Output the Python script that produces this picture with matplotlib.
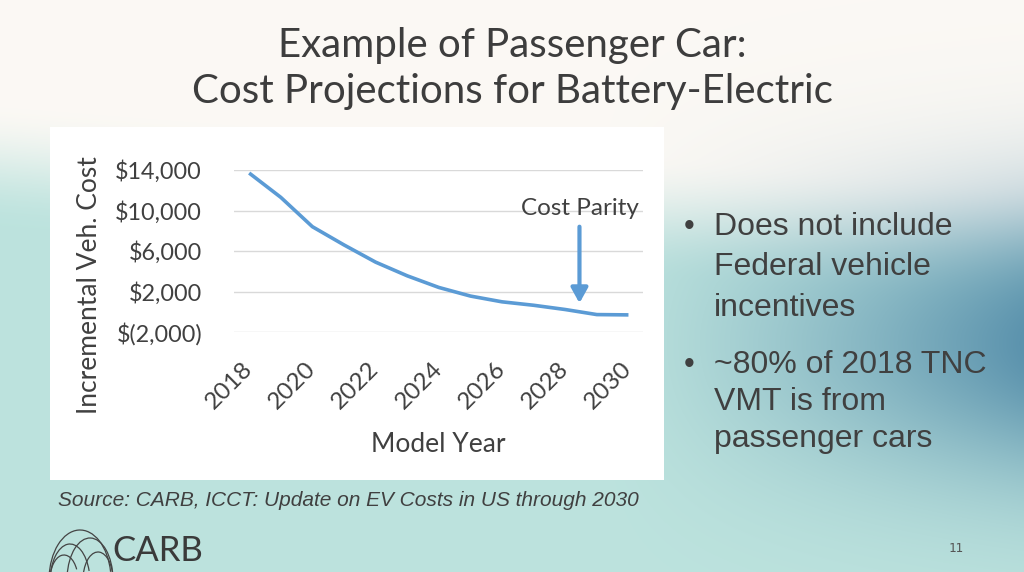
import numpy as np
import matplotlib
matplotlib.use("Agg")
import matplotlib.pyplot as plt
from matplotlib.patches import Rectangle, Arc
from matplotlib.ticker import FuncFormatter

# ============================
# Datos
# ============================
years = [2018, 2019, 2020, 2021, 2022, 2023, 2024, 2025, 2026, 2027, 2028, 2029, 2030]
cost = [13700, 11300, 8400, 6600, 4900, 3550, 2400, 1550, 980, 640, 220, -280, -310]

y_ticks = [-2000, 2000, 6000, 10000, 14000]
x_ticks = [2018, 2020, 2022, 2024, 2026, 2028, 2030]

parity_year = 2028.45
arrow_top = 8400
arrow_tip = 850
parity_label_y = 10200

title_lines = ["Example of Passenger Car:", "Cost Projections for Battery-Electric"]
bullets = [["Does not include", "Federal vehicle", "incentives"],
           ["~80% of 2018 TNC", "VMT is from", "passenger cars"]]
source_text = "Source: CARB, ICCT: Update on EV Costs in US through 2030"

W, H = 1024, 572
fig = plt.figure(figsize=(W / 100, H / 100), dpi=100)

# ============================
# Fondo degradado de la diapositiva
# ============================
bg = fig.add_axes([0, 0, 1, 1])
bg.set_xlim(0, W)
bg.set_ylim(H, 0)
bg.axis("off")

xx, yy = np.meshgrid(np.linspace(0, 1, W), np.linspace(0, 1, H))
cream = np.array([0.985, 0.975, 0.958])
teal = np.array([0.74, 0.89, 0.87])
blue = np.array([0.34, 0.56, 0.67])
y0 = 0.18 + 0.14 * xx
t = np.clip((yy - y0) / 0.22, 0, 1)
t = t * t * (3 - 2 * t)
img = cream * (1 - t[..., None]) + teal * t[..., None]
d = 0.95 * np.clip((xx - 0.58) / 0.42, 0, 1) ** 1.3 * np.exp(-((yy - 0.6) / 0.24) ** 2)
img = img * (1 - d[..., None]) + blue * d[..., None]
bg.imshow(img, extent=[0, W, H, 0], aspect="auto", zorder=0)

# caja blanca del gráfico
bg.add_patch(Rectangle((50, 127), 614, 353, facecolor="white", edgecolor="none", zorder=1))

# título
for line, yb in zip(title_lines, [57, 103]):
    bg.text(512, yb, line, ha="center", va="baseline", fontsize=29,
            color="#3d3d3d", family=["Lato", "DejaVu Sans"], zorder=2)

# viñetas
baselines = [[235, 275, 316], [373, 410, 447]]
for block, ys in zip(bullets, baselines):
    bg.text(684, ys[0], "•", ha="left", va="baseline", fontsize=22, color="#404040",
            family=["Liberation Sans", "DejaVu Sans"], zorder=2)
    for line, yb in zip(block, ys):
        bg.text(714, yb, line, ha="left", va="baseline", fontsize=23, color="#404040",
                family=["Liberation Sans", "DejaVu Sans"], zorder=2)

# fuente
bg.text(58, 500, source_text, ha="left", va="center", fontsize=15, style="italic",
        color="#404040", family=["Liberation Sans", "DejaVu Sans"], zorder=2)

# logo CARB (arcos)
for cx, cy, w, h, a1, a2 in [(80, 580, 62, 100, 185, 345), (90, 580, 46, 84, 190, 355),
                             (70, 582, 40, 76, 185, 330), (98, 580, 30, 56, 200, 360),
                             (64, 580, 28, 50, 180, 320)]:
    bg.add_patch(Arc((cx, cy), w, h, theta1=a1, theta2=a2, color="#444444", lw=0.9, zorder=2))
bg.text(112, 551, "CARB", ha="left", va="center", fontsize=25, color="#3a3a3a",
        family=["Lato", "DejaVu Sans"], zorder=2)

# número de página
bg.text(956, 548, "11", ha="center", va="center", fontsize=9, color="#555555",
        family=["DejaVu Sans Mono"], zorder=2)

# ============================
# Gráfico de línea
# ============================
chart_font = ["Lato", "DejaVu Sans"]
ax = fig.add_axes([234 / W, 1 - 332 / H, 409 / W, 162 / H])
ax.set_facecolor("none")
ax.plot(years, cost, color="#5b9bd5", lw=2.6, solid_capstyle="butt", clip_on=False)
ax.set_xlim(2017.52, 2030.46)
ax.set_ylim(-2000, 14000)
ax.set_yticks(y_ticks)
ax.set_xticks(x_ticks)


def money(v, pos):
    v = int(round(v))
    return f"$({abs(v):,})" if v < 0 else f"${v:,}"


ax.yaxis.set_major_formatter(FuncFormatter(money))
ax.grid(axis="y", color="#d9d9d9", lw=1)
ax.set_axisbelow(True)
for s in ax.spines.values():
    s.set_visible(False)
ax.tick_params(axis="y", length=0, pad=23, labelsize=16.8, labelcolor="#404040")
ax.tick_params(axis="x", length=0, pad=24, labelsize=17.5, labelcolor="#404040")
for lab in ax.get_yticklabels():
    lab.set_family(chart_font)
for lab in ax.get_xticklabels():
    lab.set_family(chart_font)
    lab.set_rotation(45)
    lab.set_ha("right")
    lab.set_va("center")
    lab.set_rotation_mode("anchor")

ax.set_xlabel("Model Year", fontsize=19, color="#404040", family=chart_font)
ax.xaxis.set_label_coords(0.5, -(445 - 332) / 162)
ax.xaxis.label.set_va("center")
ax.set_ylabel("Incremental Veh. Cost", fontsize=19, color="#404040", family=chart_font)
ax.yaxis.set_label_coords((89.5 - 234) / 409, (332 - 285) / 162)
ax.yaxis.label.set_va("center")

# flecha de paridad de costos
ax.annotate("", xy=(parity_year, arrow_tip), xytext=(parity_year, arrow_top),
            arrowprops=dict(arrowstyle="-|>,head_length=0.9,head_width=0.5",
                            color="#5b9bd5", lw=3, shrinkA=0, shrinkB=0))
ax.text(parity_year, parity_label_y, "Cost Parity", ha="center", va="center",
        fontsize=17.5, color="#404040", family=chart_font)

fig.savefig("out.png", dpi=100)
